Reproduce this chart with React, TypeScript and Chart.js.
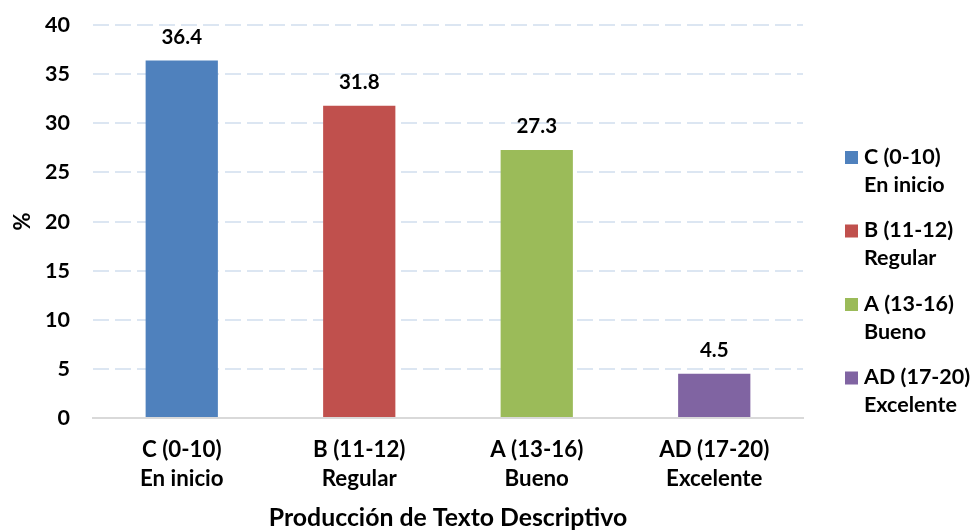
import React, { useEffect, useRef } from "react";
import { Chart, registerables } from "chart.js";

Chart.register(...registerables);

const categories: string[][] = [
  ["C (0-10)", "En inicio"],
  ["B (11-12)", "Regular"],
  ["A (13-16)", "Bueno"],
  ["AD (17-20)", "Excelente"],
];
const values: number[] = [36.4, 31.8, 27.3, 4.5];
const colors: string[] = ["#4F81BD", "#C0504D", "#9BBB59", "#8064A2"];
const yTitle = "%";
const xTitle = "Producción de Texto Descriptivo";

const FONT = "Lato, 'Open Sans', sans-serif";
const W = "bold";

const valueLabels = {
  id: "valueLabels",
  afterDatasetsDraw(chart: any) {
    const ctx = chart.ctx;
    const meta = chart.getDatasetMeta(0);
    ctx.save();
    ctx.font = `${W} 20.5px ${FONT}`;
    ctx.fillStyle = "#000";
    ctx.textAlign = "center";
    ctx.textBaseline = "middle";
    meta.data.forEach((bar: any, i: number) => {
      const v = chart.data.datasets[0].data[i];
      ctx.fillText(Number(v).toFixed(1), bar.x, bar.y - 23);
    });
    ctx.restore();
  },
};

const sideLegend = {
  id: "sideLegend",
  afterDraw(chart: any) {
    const ctx = chart.ctx;
    const labels = chart.data.labels as string[][];
    const bg = chart.data.datasets[0].backgroundColor as string[];
    ctx.save();
    ctx.font = `${W} 21.5px ${FONT}`;
    ctx.textAlign = "left";
    ctx.textBaseline = "middle";
    labels.forEach((lab, i) => {
      const y = 157 + i * 73.5;
      ctx.fillStyle = bg[i];
      ctx.fillRect(845, y - 6, 13, 13);
      ctx.fillStyle = "#000";
      ctx.fillText(lab[0], 864, y);
      ctx.fillText(lab[1], 864, y + 28);
    });
    ctx.restore();
  },
};

export default function App() {
  const ref = useRef<HTMLCanvasElement>(null);
  useEffect(() => {
    document.body.style.margin = "0";
    const chart = new Chart(ref.current!, {
      type: "bar",
      data: {
        labels: categories,
        datasets: [
          {
            data: values,
            backgroundColor: colors,
            categoryPercentage: 1,
            barPercentage: 0.407,
          },
        ],
      },
      options: {
        animation: false,
        responsive: false,
        maintainAspectRatio: false,
        layout: { padding: { top: 0, right: 169, left: 0, bottom: 0 } },
        plugins: { legend: { display: false }, tooltip: { enabled: false } },
        scales: {
          x: {
            grid: { display: false, drawTicks: false },
            border: { display: true, color: "#D9D9D9", width: 2 },
            ticks: {
              color: "#000",
              font: { family: FONT, size: 22.3, weight: W, lineHeight: 1.3 },
              padding: 17,
              maxRotation: 0,
            },
            title: {
              display: true,
              text: xTitle,
              color: "#000",
              font: { family: FONT, size: 24.8, weight: W },
              padding: { top: 4, bottom: -3 },
            },
            afterFit(scale: any) {
              scale.height = 112;
            },
          },
          y: {
            min: 0,
            max: 40,
            ticks: {
              stepSize: 5,
              color: "#000",
              font: { family: FONT, size: 21.5, weight: W, lineHeight: 0.2 },
              padding: 23,
            },
            grid: {
              color: (c: any) => (c.tick && c.tick.value === 0 ? "rgba(0,0,0,0)" : "#DCE6F2"),
              lineWidth: 2,
              drawTicks: false,
            },
            border: { display: false, dash: [16, 6] },
            title: {
              display: true,
              text: yTitle,
              color: "#000",
              font: { family: FONT, size: 22, weight: W },
              padding: { top: 10, bottom: 0 },
            },
            afterFit(scale: any) {
              scale.width = 93;
            },
          },
        },
      },
      plugins: [valueLabels, sideLegend],
    } as any);
    return () => chart.destroy();
  }, []);
  return (
    <div style={{ width: 972, height: 530 }}>
      <canvas ref={ref} width={972} height={530} />
    </div>
  );
}
